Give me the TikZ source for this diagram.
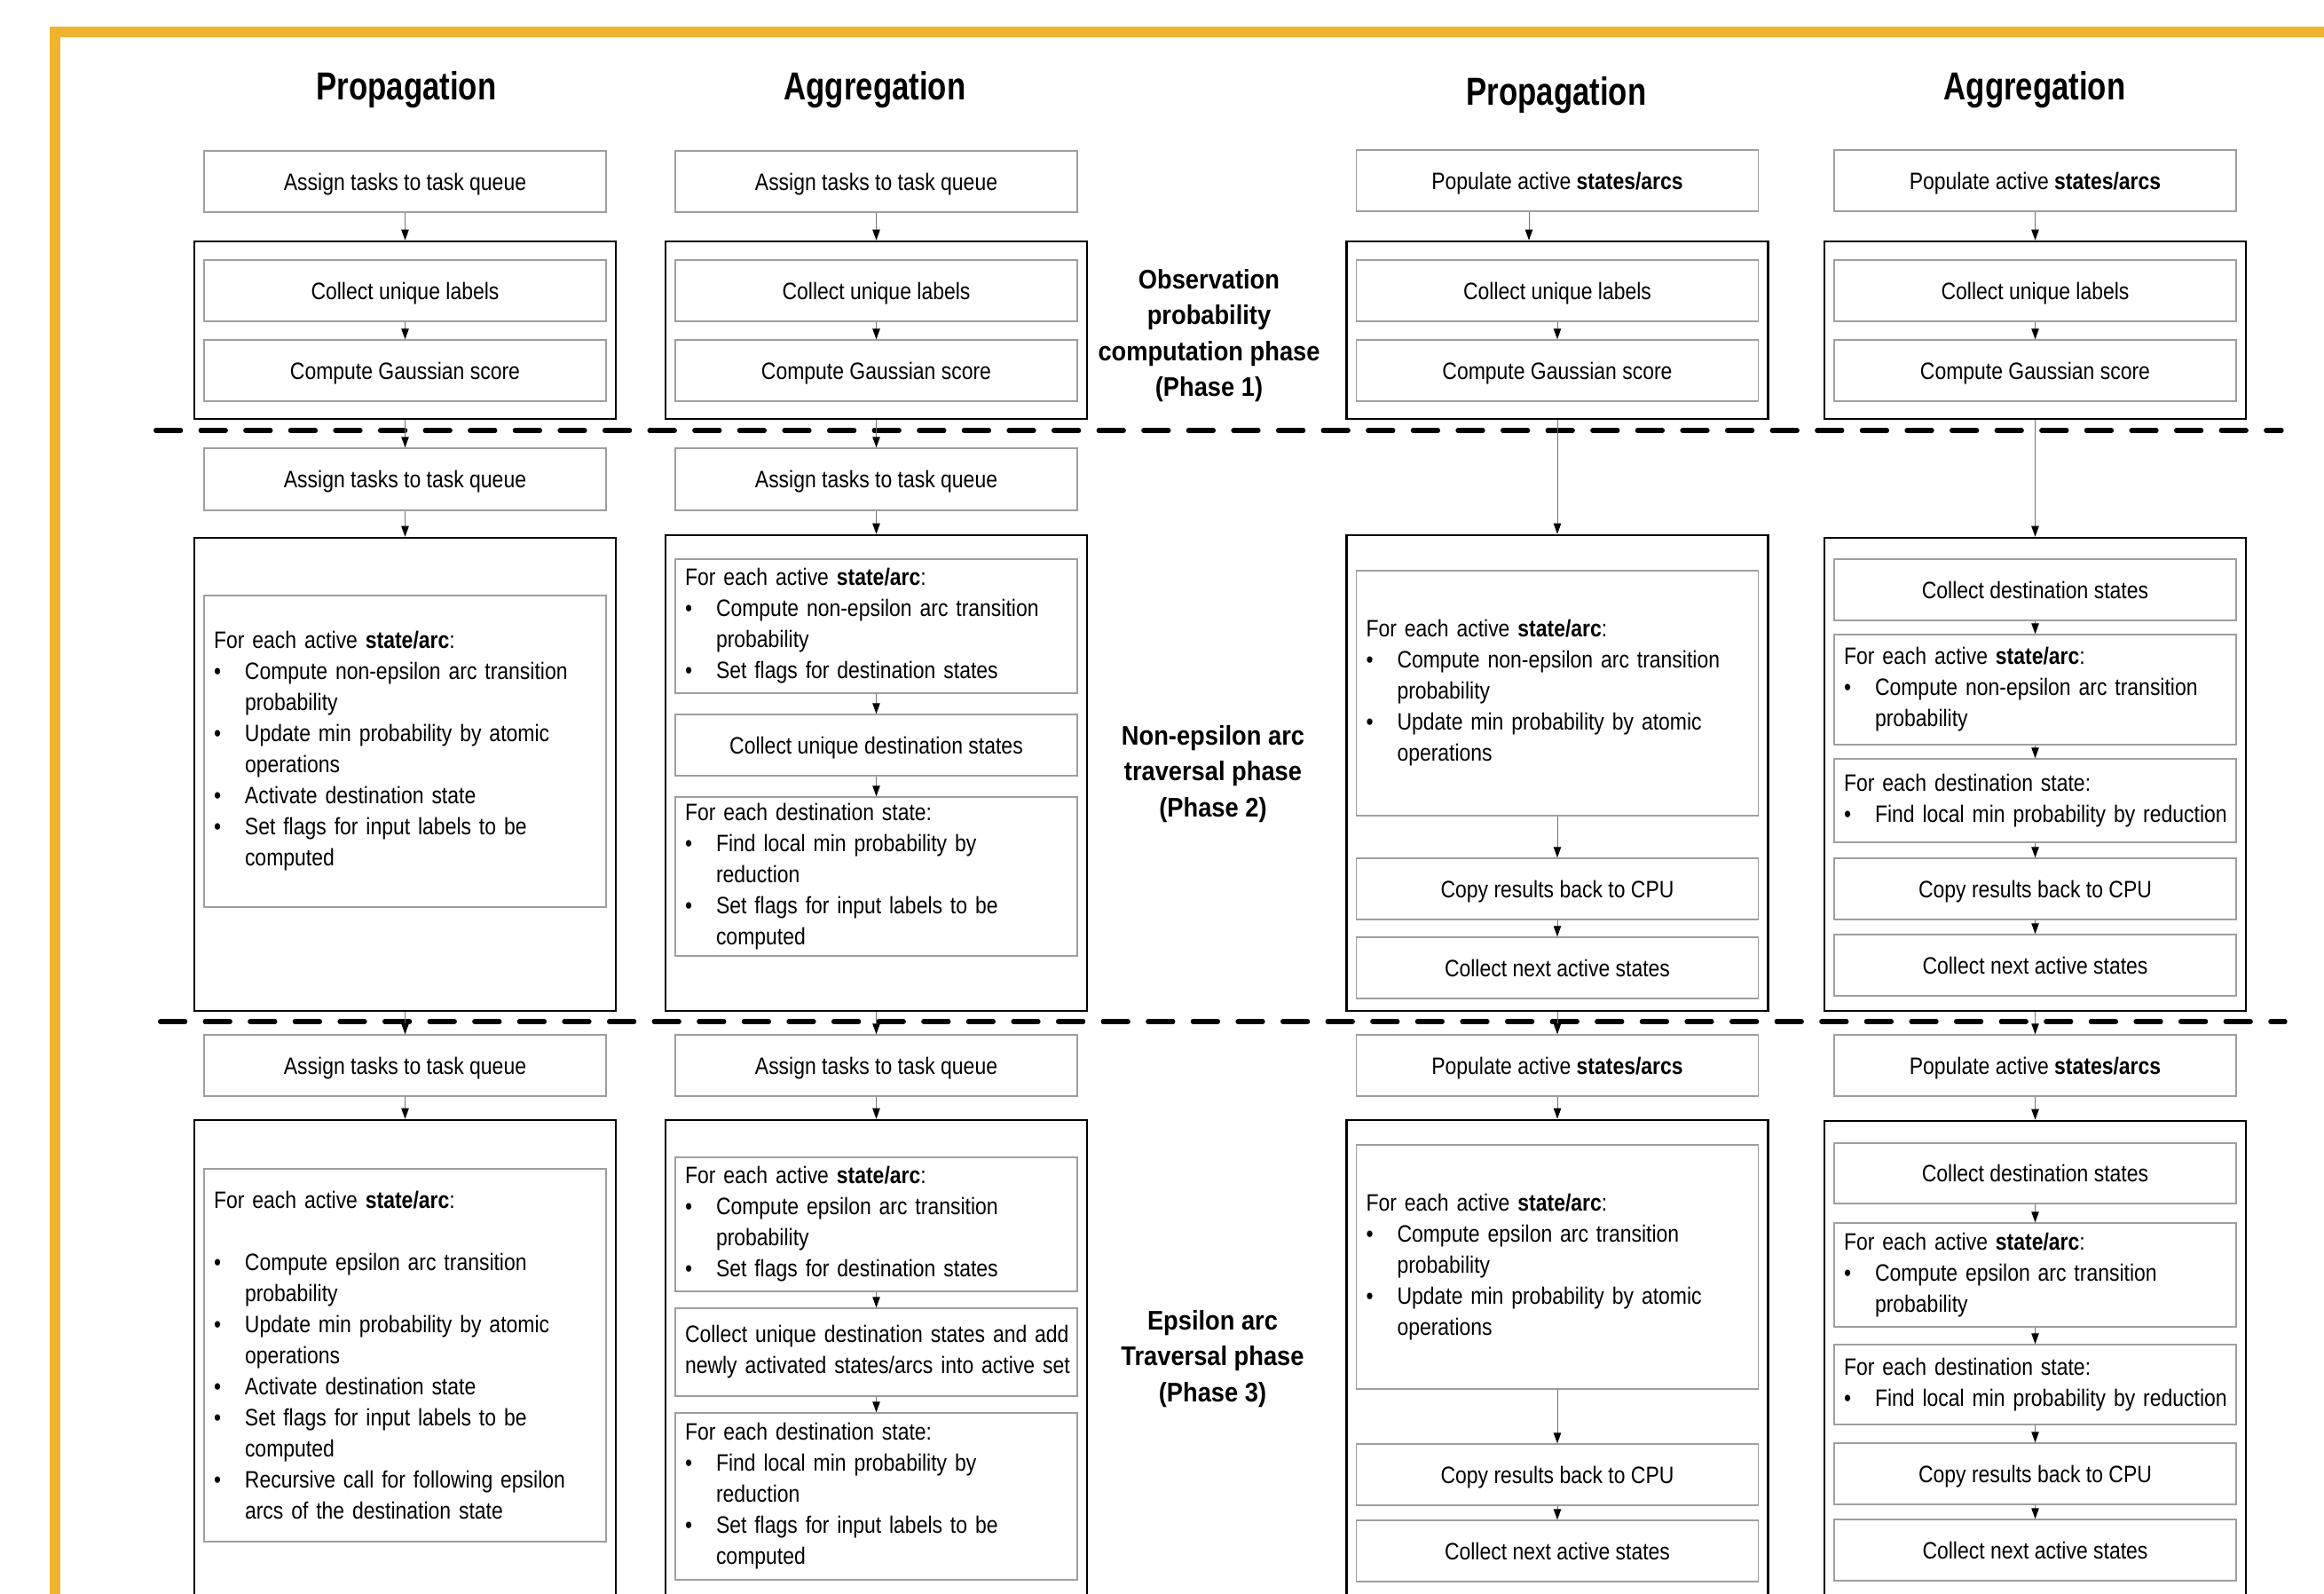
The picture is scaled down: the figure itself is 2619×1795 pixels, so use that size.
\documentclass[tikz,border=0pt]{standalone}
\usepackage{fontspec}
\setmainfont{Liberation Sans}[FakeStretch=0.86]
\newfontfamily\headfont{Liberation Sans}[FakeStretch=0.79]
\newfontfamily\phasefont{Liberation Sans}[FakeStretch=0.9]
\usetikzlibrary{arrows.meta}
\setlength{\parindent}{0pt}
\definecolor{frameorange}{HTML}{F1B32E}
\newcommand\bfont{\fontsize{13.35}{17.5}\selectfont}
\newcommand\bu[1]{\makebox[17.5pt][l]{\textbullet}\mbox{#1}}
\newcommand\cn[1]{\hspace*{17.5pt}\mbox{#1}}
\begin{document}
\begin{tikzpicture}[x=0.5pt,y=-0.5pt,
  ibox/.style={draw=black!38, line width=0.7pt, fill=white, minimum width=226.5pt, inner sep=0pt, font=\bfont, text height=9.6pt, text depth=0pt, align=center},
  tbox/.style={draw=black!38, line width=0.7pt, fill=white, text width=215.5pt, inner xsep=5.5pt, inner ysep=0pt, font=\bfont, align=left},
  obox/.style={draw=black, line width=1.3pt, minimum width=237.5pt, inner sep=0pt},
  arr/.style={draw=black!55, line width=0.5pt, -{Triangle[length=6pt,width=4.2pt,color=black]}},
  sepline/.style={draw=black, line width=2.65pt, line cap=round, dash pattern=on 14pt off 11.3pt},
  framestyle/.style={draw=frameorange, line width=6pt, line join=miter},
  head/.style={font=\headfont\bfseries\fontsize{22}{26}\selectfont, anchor=base, inner sep=0pt},
  phase/.style={font=\phasefont\bfseries\fontsize{15.15}{20.25}\selectfont, align=center, inner sep=0pt},
]
\useasboundingbox (0,0) rectangle (2619,1795);
\clip (0,0) rectangle (2619,1795);
\fill[white] (0,0) rectangle (2619,1795);

% orange frame
\coordinate (fa) at (62,1830);
\coordinate (fb) at (62,36);
\coordinate (fc) at (2660,36);
\draw[framestyle] (fa) -- (fb) -- (fc);

% headings
\node[head] (h1) at (458,112) {Propagation};
\node[head] (h2) at (986,112) {Aggregation};
\node[head] (h3) at (1754,118) {Propagation};
\node[head] (h4) at (2293,112) {Aggregation};

% phase labels
\node[phase] (ph1) at (1362.5,378) {Observation\\probability\\computation phase\\(Phase 1)};
\node[phase] (ph2) at (1367,872) {Non-epsilon arc\\traversal phase\\(Phase 2)};
\node[phase] (ph3) at (1366.5,1531) {Epsilon arc\\Traversal phase\\(Phase 3)};

% separators
\coordinate (s1a) at (175.6,485);
\coordinate (s1b) at (2571,485);
\coordinate (s2a) at (180.6,1151);
\coordinate (s2b) at (2575,1151);
\draw[sepline] (s1a) -- (s1b);
\draw[sepline] (s2a) -- (s2b);

% ---------------- Phase 1 ----------------
\node[obox, minimum height=100pt] (o11) at (456.5,372) {};
\node[obox, minimum height=100pt] (o12) at (987.5,372) {};
\node[obox, minimum height=100pt] (o13) at (1755,372) {};
\node[obox, minimum height=100pt] (o14) at (2293.5,372) {};

\node[ibox, minimum height=34.5pt] (t11) at (456.5,204.5) {Assign tasks to task queue};
\node[ibox, minimum height=34.5pt] (t12) at (987.5,204.5) {Assign tasks to task queue};
\node[ibox, minimum height=34.5pt] (t13) at (1755,203.5) {Populate active \textbf{states/arcs}};
\node[ibox, minimum height=34.5pt] (t14) at (2293.5,203.5) {Populate active \textbf{states/arcs}};

\node[ibox, minimum height=34.5pt] (a11) at (456.5,327.5) {Collect unique labels};
\node[ibox, minimum height=34.5pt] (b11) at (456.5,417.5) {Compute Gaussian score};
\node[ibox, minimum height=34.5pt] (a12) at (987.5,327.5) {Collect unique labels};
\node[ibox, minimum height=34.5pt] (b12) at (987.5,417.5) {Compute Gaussian score};
\node[ibox, minimum height=34.5pt] (a13) at (1755,327.5) {Collect unique labels};
\node[ibox, minimum height=34.5pt] (b13) at (1755,417.5) {Compute Gaussian score};
\node[ibox, minimum height=34.5pt] (a14) at (2293.5,327.5) {Collect unique labels};
\node[ibox, minimum height=34.5pt] (b14) at (2293.5,417.5) {Compute Gaussian score};

\draw[arr] (t11) -- (o11);
\draw[arr] (t12) -- (o12);
\draw[arr] ([xshift=-16pt]t13.south) -- ([xshift=-16pt]t13.south |- o13.north);
\draw[arr] (t14) -- (o14);
\draw[arr] (a11) -- (b11);
\draw[arr] (a12) -- (b12);
\draw[arr] (a13) -- (b13);
\draw[arr] (a14) -- (b14);

% ---------------- Phase 2 ----------------
\node[obox, minimum height=266.5pt] (o21) at (456.5,872.5) {};
\node[obox, minimum height=268pt] (o22) at (987.5,871) {};
\node[obox, minimum height=268pt] (o23) at (1755,871) {};
\node[obox, minimum height=266.5pt] (o24) at (2293.5,872.5) {};

\node[ibox, minimum height=35pt] (t21) at (456.5,540) {Assign tasks to task queue};
\node[ibox, minimum height=35pt] (t22) at (987.5,540) {Assign tasks to task queue};

\node[tbox, minimum height=175.5pt] (a21) at (456.5,846.5) {For each active \textbf{state/arc}:\\
\bu{Compute non-epsilon arc transition}\\
\cn{probability}\\
\bu{Update min probability by atomic}\\
\cn{operations}\\
\bu{Activate destination state}\\
\bu{Set flags for input labels to be}\\
\cn{computed}};

\node[tbox, minimum height=75.5pt] (a22) at (987.5,705.5) {For each active \textbf{state/arc}:\\
\bu{Compute non-epsilon arc transition}\\
\cn{probability}\\
\bu{Set flags for destination states}};
\node[ibox, minimum height=34.5pt] (b22) at (987.5,839.5) {Collect unique destination states};
\node[tbox, minimum height=89.5pt] (c22) at (987.5,987.5) {For each destination state:\\
\bu{Find local min probability by}\\
\cn{reduction}\\
\bu{Set flags for input labels to be}\\
\cn{computed}};

\node[tbox, minimum height=138pt] (a23) at (1755,781) {For each active \textbf{state/arc}:\\
\bu{Compute non-epsilon arc transition}\\
\cn{probability}\\
\bu{Update min probability by atomic}\\
\cn{operations}};
\node[ibox, minimum height=34.5pt] (b23) at (1755,1001.5) {Copy results back to CPU};
\node[ibox, minimum height=34.5pt] (c23) at (1755,1090.5) {Collect next active states};

\node[ibox, minimum height=34.5pt] (a24) at (2293.5,664.5) {Collect destination states};
\node[tbox, minimum height=62pt] (b24) at (2293.5,777) {For each active \textbf{state/arc}:\\
\bu{Compute non-epsilon arc transition}\\
\cn{probability}};
\node[tbox, minimum height=47pt] (c24) at (2293.5,902) {For each destination state:\\
\bu{Find local min probability by reduction}};
\node[ibox, minimum height=34.5pt] (d24) at (2293.5,1001.5) {Copy results back to CPU};
\node[ibox, minimum height=34.5pt] (e24) at (2293.5,1087.5) {Collect next active states};

\draw[arr] (o11) -- (t21);
\draw[arr] (o12) -- (t22);
\draw[arr] (o13) -- (o23);
\draw[arr] (o14) -- (o24);
\draw[arr] (t21) -- (o21);
\draw[arr] (t22) -- (o22);
\draw[arr] (a22) -- (b22);
\draw[arr] (b22) -- (c22);
\draw[arr] (a23) -- (b23);
\draw[arr] (b23) -- (c23);
\draw[arr] (a24) -- (b24);
\draw[arr] (b24) -- (c24);
\draw[arr] (c24) -- (d24);
\draw[arr] (d24) -- (e24);

% ---------------- Phase 3 ----------------
\node[obox, minimum height=284pt] (o31) at (456.5,1546) {};
\node[obox, minimum height=284pt] (o32) at (987.5,1546) {};
\node[obox, minimum height=284pt] (o33) at (1755,1546) {};
\node[obox, minimum height=283.5pt] (o34) at (2293.5,1546.5) {};

\node[ibox, minimum height=34.5pt] (t31) at (456.5,1200.5) {Assign tasks to task queue};
\node[ibox, minimum height=34.5pt] (t32) at (987.5,1200.5) {Assign tasks to task queue};
\node[ibox, minimum height=34.5pt] (t33) at (1755,1200.5) {Populate active \textbf{states/arcs}};
\node[ibox, minimum height=34.5pt] (t34) at (2293.5,1200.5) {Populate active \textbf{states/arcs}};

\node[tbox, minimum height=210pt] (a31) at (456.5,1527) {For each active \textbf{state/arc}:\\
\mbox{}\\
\bu{Compute epsilon arc transition}\\
\cn{probability}\\
\bu{Update min probability by atomic}\\
\cn{operations}\\
\bu{Activate destination state}\\
\bu{Set flags for input labels to be}\\
\cn{computed}\\
\bu{Recursive call for following epsilon}\\
\cn{arcs of the destination state}};

\node[tbox, minimum height=75.5pt] (a32) at (987.5,1379.5) {For each active \textbf{state/arc}:\\
\bu{Compute epsilon arc transition}\\
\cn{probability}\\
\bu{Set flags for destination states}};
\node[tbox, minimum height=49.5pt] (b32) at (987.5,1523.5) {\mbox{Collect unique destination states and add}\\
\mbox{newly activated states/arcs into active set}};
\node[tbox, minimum height=94pt] (c32) at (987.5,1686) {For each destination state:\\
\bu{Find local min probability by}\\
\cn{reduction}\\
\bu{Set flags for input labels to be}\\
\cn{computed}};

\node[tbox, minimum height=137.5pt] (a33) at (1755,1427.5) {For each active \textbf{state/arc}:\\
\bu{Compute epsilon arc transition}\\
\cn{probability}\\
\bu{Update min probability by atomic}\\
\cn{operations}};
\node[ibox, minimum height=34.5pt] (b33) at (1755,1661.5) {Copy results back to CPU};
\node[ibox, minimum height=34.5pt] (c33) at (1755,1747.5) {Collect next active states};

\node[ibox, minimum height=34pt] (a34) at (2293.5,1322) {Collect destination states};
\node[tbox, minimum height=58.5pt] (b34) at (2293.5,1436.5) {For each active \textbf{state/arc}:\\
\bu{Compute epsilon arc transition}\\
\cn{probability}};
\node[tbox, minimum height=45pt] (c34) at (2293.5,1560) {For each destination state:\\
\bu{Find local min probability by reduction}};
\node[ibox, minimum height=34.5pt] (d34) at (2293.5,1660.5) {Copy results back to CPU};
\node[ibox, minimum height=34.5pt] (e34) at (2293.5,1746.5) {Collect next active states};

\draw[arr] (o21) -- (t31);
\draw[arr] (o22) -- (t32);
\draw[arr] (o23) -- (t33);
\draw[arr] (o24) -- (t34);
\draw[arr] (t31) -- (o31.north);
\draw[arr] (t32) -- (o32.north);
\draw[arr] (t33) -- (o33.north);
\draw[arr] (t34) -- (o34.north);
\draw[arr] (a32) -- (b32);
\draw[arr] (b32) -- (c32);
\draw[arr] (a33) -- (b33);
\draw[arr] (b33) -- (c33);
\draw[arr] (a34) -- (b34);
\draw[arr] (b34) -- (c34);
\draw[arr] (c34) -- (d34);
\draw[arr] (d34) -- (e34);
\end{tikzpicture}
\end{document}
